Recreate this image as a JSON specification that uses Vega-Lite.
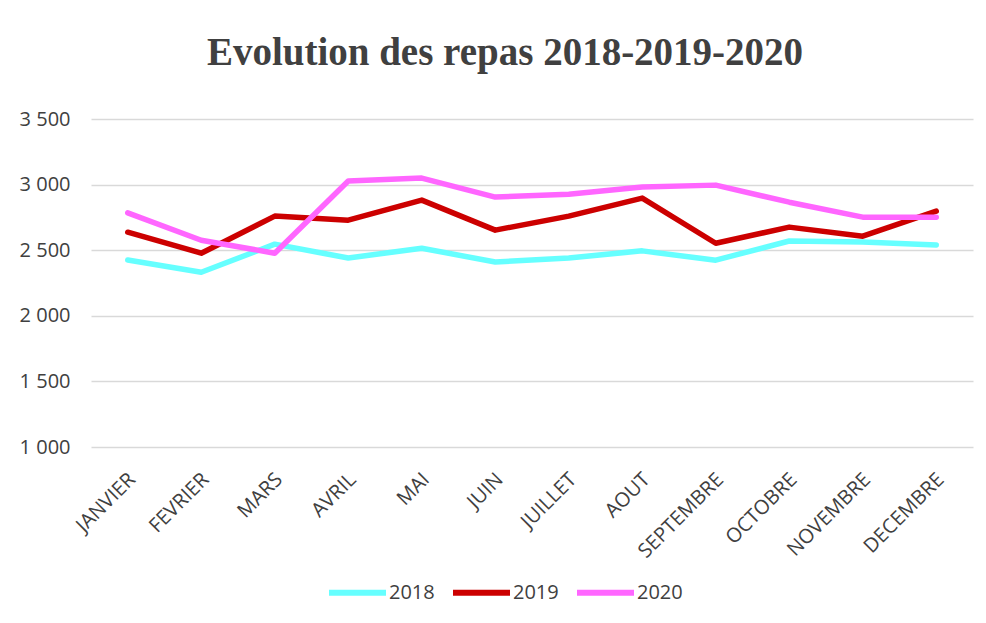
{
  "$schema": "https://vega.github.io/schema/vega-lite/v6.json",
  "width": 882,
  "height": 328,
  "autosize": {"type": "none"},
  "padding": {"left": 91, "top": 119, "right": 13, "bottom": 176},
  "background": "white",
  "title": {
    "text": "Evolution des repas 2018-2019-2020",
    "font": "Liberation Serif",
    "fontSize": 39,
    "fontWeight": "bold",
    "color": "#404040",
    "anchor": "middle",
    "dx": -27,
    "offset": 36
  },
  "data": {
    "values": [
      {"mois": "JANVIER", "annee": "2018", "repas": 2425},
      {"mois": "FEVRIER", "annee": "2018", "repas": 2332},
      {"mois": "MARS", "annee": "2018", "repas": 2546},
      {"mois": "AVRIL", "annee": "2018", "repas": 2440},
      {"mois": "MAI", "annee": "2018", "repas": 2515},
      {"mois": "JUIN", "annee": "2018", "repas": 2410},
      {"mois": "JUILLET", "annee": "2018", "repas": 2440},
      {"mois": "AOUT", "annee": "2018", "repas": 2495},
      {"mois": "SEPTEMBRE", "annee": "2018", "repas": 2424},
      {"mois": "OCTOBRE", "annee": "2018", "repas": 2570},
      {"mois": "NOVEMBRE", "annee": "2018", "repas": 2562},
      {"mois": "DECEMBRE", "annee": "2018", "repas": 2540},
      {"mois": "JANVIER", "annee": "2019", "repas": 2637},
      {"mois": "FEVRIER", "annee": "2019", "repas": 2477},
      {"mois": "MARS", "annee": "2019", "repas": 2760},
      {"mois": "AVRIL", "annee": "2019", "repas": 2729},
      {"mois": "MAI", "annee": "2019", "repas": 2882},
      {"mois": "JUIN", "annee": "2019", "repas": 2653},
      {"mois": "JUILLET", "annee": "2019", "repas": 2760},
      {"mois": "AOUT", "annee": "2019", "repas": 2897},
      {"mois": "SEPTEMBRE", "annee": "2019", "repas": 2553},
      {"mois": "OCTOBRE", "annee": "2019", "repas": 2676},
      {"mois": "NOVEMBRE", "annee": "2019", "repas": 2607},
      {"mois": "DECEMBRE", "annee": "2019", "repas": 2798},
      {"mois": "JANVIER", "annee": "2020", "repas": 2785},
      {"mois": "FEVRIER", "annee": "2020", "repas": 2576},
      {"mois": "MARS", "annee": "2020", "repas": 2477},
      {"mois": "AVRIL", "annee": "2020", "repas": 3027},
      {"mois": "MAI", "annee": "2020", "repas": 3050},
      {"mois": "JUIN", "annee": "2020", "repas": 2905},
      {"mois": "JUILLET", "annee": "2020", "repas": 2927},
      {"mois": "AOUT", "annee": "2020", "repas": 2981},
      {"mois": "SEPTEMBRE", "annee": "2020", "repas": 2996},
      {"mois": "OCTOBRE", "annee": "2020", "repas": 2866},
      {"mois": "NOVEMBRE", "annee": "2020", "repas": 2752},
      {"mois": "DECEMBRE", "annee": "2020", "repas": 2752}
    ]
  },
  "mark": {"type": "line", "strokeWidth": 5.5, "strokeCap": "round", "strokeJoin": "round"},
  "encoding": {
    "x": {
      "field": "mois",
      "type": "nominal",
      "sort": null,
      "scale": {"type": "point", "padding": 0.5},
      "axis": {
        "title": null,
        "labelAngle": -45,
        "labelFont": "Open Sans",
        "labelFontSize": 20,
        "labelColor": "#404040",
        "ticks": false,
        "domain": false,
        "grid": false,
        "labelPadding": 22,
        "labelOffset": -3
      }
    },
    "y": {
      "field": "repas",
      "type": "quantitative",
      "scale": {"domain": [1000, 3500], "nice": false, "zero": false},
      "axis": {
        "title": null,
        "values": [1000, 1500, 2000, 2500, 3000, 3500],
        "labelExpr": "replace(format(datum.value, ','), ',', ' ')",
        "labelFont": "Open Sans",
        "labelFontSize": 20,
        "labelColor": "#404040",
        "ticks": false,
        "domain": false,
        "gridColor": "#d9d9d9",
        "gridWidth": 1.3,
        "labelPadding": 21
      }
    },
    "color": {
      "field": "annee",
      "type": "nominal",
      "scale": {"domain": ["2018", "2019", "2020"], "range": ["#66FFFF", "#CC0000", "#FF66FF"]},
      "legend": {
        "title": null,
        "orient": "none",
        "direction": "horizontal",
        "legendX": 235,
        "legendY": 442,
        "symbolType": "stroke",
        "symbolSize": 3249,
        "symbolStrokeWidth": 6,
        "labelFont": "Open Sans",
        "labelFontSize": 20,
        "labelColor": "#404040",
        "columnPadding": 6,
        "labelOffset": 0
      }
    }
  },
  "config": {"view": {"stroke": null}}
}
